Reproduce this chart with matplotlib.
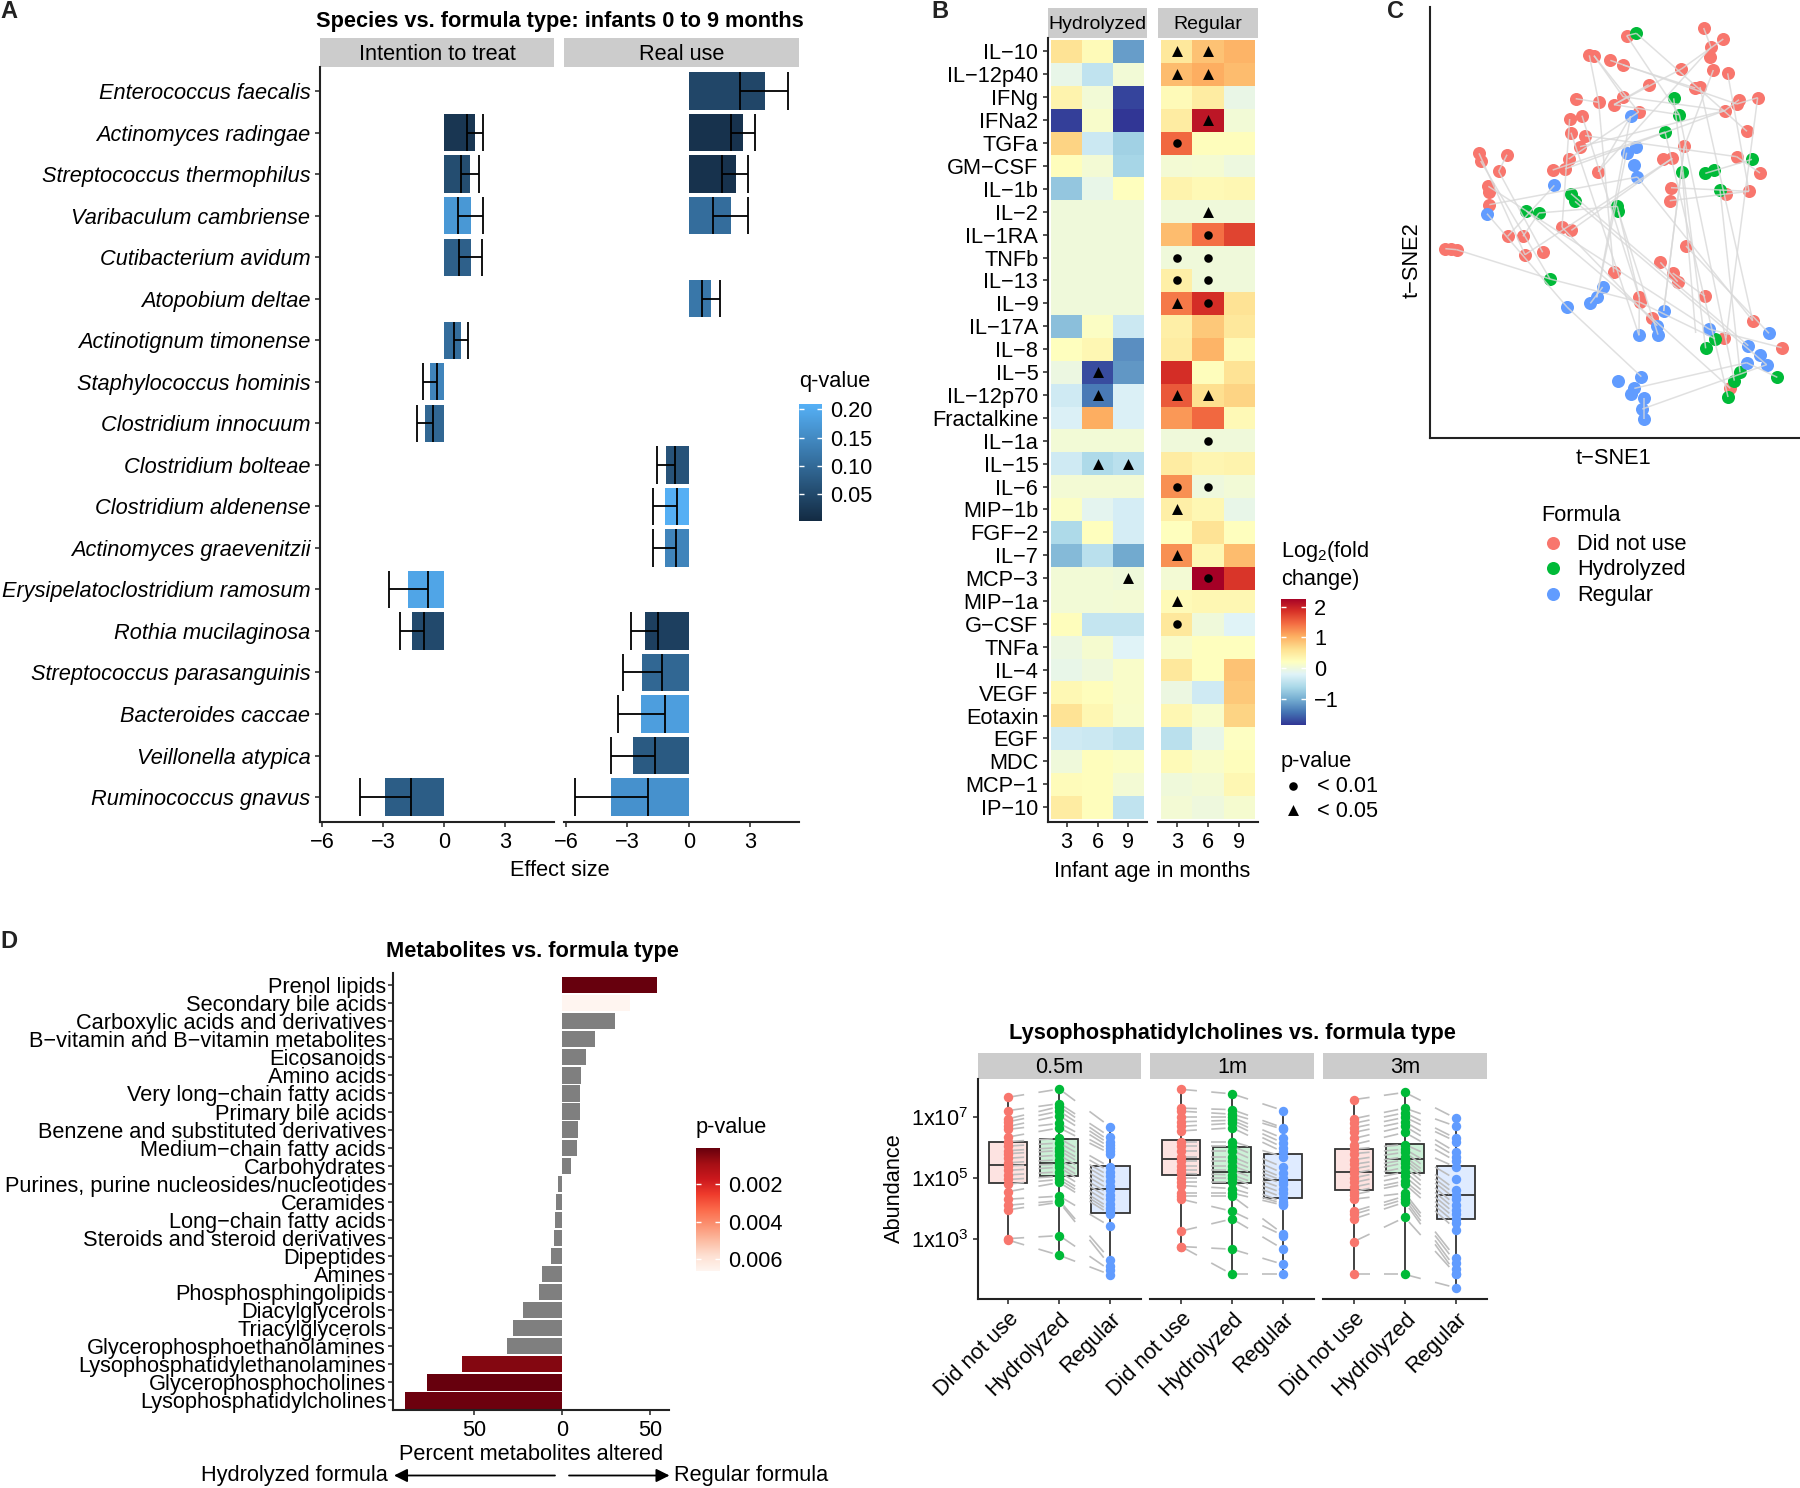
import numpy as np
import matplotlib
matplotlib.use('Agg')
import matplotlib.pyplot as plt
from matplotlib.colors import LinearSegmentedColormap, Normalize
from matplotlib.collections import LineCollection

plt.rcParams['font.family'] = ['Liberation Sans', 'DejaVu Sans']
plt.rcParams['mathtext.fontset'] = 'custom'
plt.rcParams['mathtext.rm'] = 'Liberation Sans'
plt.rcParams['mathtext.default'] = 'rm'
plt.rcParams['axes.unicode_minus'] = True

W, H = 1800, 1488
FS = 15.7
AXC = '#222222'

# panel A: species effect sizes
species = ['Enterococcus faecalis', 'Actinomyces radingae', 'Streptococcus thermophilus',
           'Varibaculum cambriense', 'Cutibacterium avidum', 'Atopobium deltae',
           'Actinotignum timonense', 'Staphylococcus hominis', 'Clostridium innocuum',
           'Clostridium bolteae', 'Clostridium aldenense', 'Actinomyces graevenitzii',
           'Erysipelatoclostridium ramosum', 'Rothia mucilaginosa', 'Streptococcus parasanguinis',
           'Bacteroides caccae', 'Veillonella atypica', 'Ruminococcus gnavus']
itt_rows = [1, 2, 3, 4, 6, 7, 8, 12, 13, 17]
itt_effect = [1.52, 1.26, 1.29, 1.32, 0.81, -0.70, -0.96, -1.77, -1.57, -2.92]
itt_low = [1.10, 0.81, 0.65, 0.73, 0.45, -0.34, -0.56, -0.81, -0.98, -1.66]
itt_high = [1.91, 1.71, 1.91, 1.85, 1.18, -1.04, -1.35, -2.72, -2.16, -4.16]
itt_q = [0.02, 0.055, 0.17, 0.085, 0.105, 0.14, 0.095, 0.19, 0.05, 0.08]
real_rows = [0, 1, 2, 3, 5, 9, 10, 11, 13, 14, 15, 16, 17]
real_effect = [3.71, 2.64, 2.28, 2.08, 1.07, -1.12, -1.15, -1.18, -2.16, -2.28, -2.33, -2.72, -3.79]
real_low = [2.50, 2.05, 1.63, 1.18, 0.62, -0.67, -0.56, -0.65, -1.49, -1.32, -1.18, -1.66, -1.99]
real_high = [4.86, 3.23, 2.87, 2.89, 1.52, -1.57, -1.77, -1.77, -2.84, -3.20, -3.48, -3.79, -5.56]
real_q = [0.045, 0.015, 0.015, 0.105, 0.12, 0.065, 0.205, 0.14, 0.035, 0.095, 0.18, 0.075, 0.16]

# panel B: cytokine log2 fold change, columns are 3, 6, 9 months
cytokines = ['IL−10', 'IL−12p40', 'IFNg', 'IFNa2', 'TGFa', 'GM−CSF', 'IL−1b', 'IL−2', 'IL−1RA',
             'TNFb', 'IL−13', 'IL−9', 'IL−17A', 'IL−8', 'IL−5', 'IL−12p70', 'Fractalkine', 'IL−1a',
             'IL−15', 'IL−6', 'MIP−1b', 'FGF−2', 'IL−7', 'MCP−3', 'MIP−1a', 'G−CSF', 'TNFa', 'IL−4',
             'VEGF', 'Eotaxin', 'EGF', 'MDC', 'MCP−1', 'IP−10']
ages = ['3', '6', '9']
hydrolyzed_fc = [[.55, .25, -1.15], [-.1, -.45, .02], [.35, .03, -1.75], [-1.78, .1, -1.86],
                 [.7, -.38, -.7], [.22, .05, -.65], [-.8, -.1, .2], [0, 0, 0], [0, 0, 0], [0, 0, 0],
                 [0, 0, 0], [0, 0, 0], [-.85, .15, -.38], [.2, .3, -1.25], [-.05, -1.7, -1.2],
                 [-.35, -1.4, -.25], [-.25, 1.0, -.25], [.02, .02, .02], [-.35, -.6, -.5],
                 [.05, .05, .05], [.15, -.15, -.3], [-.6, .2, -.3], [-.9, -.5, -1.05], [.03, .03, 0],
                 [.03, .02, .04], [.22, -.42, -.42], [-.05, .08, -.22], [-.1, -.02, .12],
                 [.28, .22, .12], [.55, .3, .1], [-.35, -.38, -.45], [0, .22, .15], [.23, .22, .05],
                 [.45, .22, -.45]]
regular_fc = [[.5, .85, .95], [.9, 1.0, .9], [.25, .45, -.08], [.45, 2.05, .03], [1.45, .22, .22],
              [.05, .06, -.03], [.35, .27, .3], [0, 0, 0], [.9, 1.4, 1.7], [0, 0, 0], [.4, 0, 0],
              [1.35, 1.85, .55], [.4, .8, .5], [.45, .95, .25], [1.85, .22, .55], [1.55, .6, .7],
              [1.15, 1.45, .27], [0, 0, 0], [.45, .32, .35], [1.2, -.02, .03], [.4, .3, -.1],
              [.2, .55, .2], [1.2, .3, .9], [.05, 2.25, 1.8], [.25, .3, .3], [.5, -.01, -.22],
              [.1, .2, .2], [.5, .2, .85], [-.05, -.35, .8], [.3, .1, .7], [-.5, -.1, .17],
              [.25, .13, .22], [0, .05, .3], [.04, -.02, .07]]
# significance marks as (cytokine row, age column)
hydrolyzed_p05 = [(14, 1), (15, 1), (18, 1), (18, 2), (23, 2)]
hydrolyzed_p01 = []
regular_p05 = [(0, 0), (0, 1), (1, 0), (1, 1), (3, 1), (7, 1), (11, 0), (15, 0), (15, 1), (20, 0),
               (22, 0), (24, 0)]
regular_p01 = [(4, 0), (8, 1), (9, 0), (9, 1), (10, 0), (10, 1), (11, 1), (17, 1), (19, 0), (19, 1),
               (23, 1), (25, 0)]

# panel C: t-SNE points
red_x = [680, 911, 970, 933, 931, 568, 582, 631, 669, 844, 940, 983, 746, 886, 900, 527, 596, 668, 642,
         1017, 1010, 1073, 974, 716, 546, 509, 1041, 513, 555, 540, 853, 237, 242, 321, 506, 458, 495,
         595, 790, 817, 1010, 1080, 296, 265, 267, 268, 813, 1047, 978, 809, 486, 514, 323, 369, 375,
         428, 136, 153, 170, 858, 781, 641, 818, 833, 915, 718, 720, 756, 1058, 973, 1145, 991]
red_y = [108, 85, 118, 143, 172, 167, 168, 182, 196, 208, 211, 221, 255, 265, 262, 297, 308, 291, 315,
         300, 313, 294, 333, 337, 348, 358, 395, 399, 408, 441, 440, 461, 484, 465, 478, 511, 508,
         516, 479, 476, 471, 520, 515, 560, 578, 615, 564, 575, 582, 603, 683, 692, 710, 710, 765,
         758, 747, 748, 750, 739, 788, 818, 820, 846, 890, 893, 908, 955, 963, 1016, 1044, 1166]
green_x = [709, 821, 838, 795, 846, 916, 942, 1056, 960, 513, 525, 652, 654, 379, 417, 450, 945, 917,
           1020, 1003, 984, 1132]
green_y = [101, 296, 345, 397, 516, 521, 510, 479, 570, 582, 605, 620, 633, 634, 640, 838, 1017, 1046,
           1118, 1143, 1192, 1133]
blue_x = [692, 709, 680, 701, 712, 463, 261, 608, 590, 571, 501, 791, 772, 717, 774, 927, 1107, 1045,
          1080, 1040, 1100, 724, 655, 703, 692, 732, 727, 732]
blue_y = [350, 441, 459, 495, 532, 557, 642, 862, 893, 911, 922, 934, 978, 1007, 1005, 988, 1001, 1038,
          1066, 1089, 1095, 1131, 1144, 1166, 1182, 1195, 1228, 1257]
# lines joining samples of one infant: x1, y1, x2, y2
tsne_links = [(680, 108, 709, 101), (709, 101, 1041, 395), (680, 108, 838, 345), (911, 85, 933, 143),
              (933, 143, 595, 516), (970, 118, 844, 208), (844, 208, 642, 315), (568, 167, 596, 308),
              (582, 168, 669, 291), (582, 168, 716, 337), (631, 182, 1010, 313), (669, 196, 886, 265),
              (746, 255, 642, 315), (940, 211, 853, 440), (853, 440, 791, 934), (983, 221, 1047, 575),
              (900, 262, 1058, 963), (527, 297, 596, 308), (596, 308, 641, 818), (668, 291, 974, 333),
              (642, 315, 838, 345), (1073, 294, 1010, 313), (1073, 294, 978, 1016), (974, 333, 540, 441),
              (1017, 300, 974, 333), (716, 337, 506, 478), (692, 350, 595, 516), (692, 350, 590, 893),
              (546, 348, 718, 893), (509, 358, 486, 683), (513, 399, 717, 1007), (555, 408, 1010, 471),
              (237, 461, 375, 765), (242, 484, 450, 838), (321, 465, 296, 515), (296, 515, 428, 758),
              (458, 511, 795, 397), (495, 508, 974, 333), (265, 560, 927, 988), (268, 615, 712, 532),
              (261, 642, 501, 922), (463, 557, 323, 710), (513, 582, 1045, 1038), (525, 605, 1100, 1095),
              (652, 620, 718, 893), (654, 633, 774, 1005), (379, 634, 756, 955), (417, 640, 652, 620),
              (486, 683, 772, 978), (514, 692, 817, 476), (369, 710, 417, 640), (375, 765, 817, 476),
              (136, 747, 170, 750), (170, 750, 450, 838), (450, 838, 720, 908), (501, 922, 724, 1131),
              (608, 862, 571, 911), (590, 893, 680, 459), (781, 788, 833, 846), (818, 820, 915, 890),
              (858, 739, 1107, 1001), (720, 908, 945, 1017), (756, 955, 991, 1166), (712, 532, 1058, 963),
              (838, 345, 1003, 1143), (821, 296, 917, 1046), (795, 397, 984, 1192), (846, 516, 887, 1000),
              (813, 564, 1047, 575), (809, 603, 1047, 575), (1056, 479, 916, 521), (1010, 471, 1080, 520),
              (960, 570, 1020, 1118), (703, 1166, 1040, 1089), (727, 1228, 1100, 1095), (732, 1195, 732, 1257),
              (1040, 1089, 1132, 1133), (927, 988, 1145, 1044), (718, 893, 717, 1007), (791, 934, 853, 440)]

# panel D: metabolites
metabolites = ['Prenol lipids', 'Secondary bile acids', 'Carboxylic acids and derivatives',
               'B−vitamin and B−vitamin metabolites', 'Eicosanoids', 'Amino acids',
               'Very long−chain fatty acids', 'Primary bile acids', 'Benzene and substituted derivatives',
               'Medium−chain fatty acids', 'Carbohydrates', 'Purines, purine nucleosides/nucleotides',
               'Ceramides', 'Long−chain fatty acids', 'Steroids and steroid derivatives', 'Dipeptides',
               'Amines', 'Phosphosphingolipids', 'Diacylglycerols', 'Triacylglycerols',
               'Glycerophosphoethanolamines', 'Lysophosphatidylethanolamines', 'Glycerophosphocholines',
               'Lysophosphatidylcholines']
percent_altered = [53.9, 38.3, 30.1, 18.3, 13.4, 10.7, 10, 10, 9.1, 8.5, 4.9, -2.7, -3.7, -4, -4.9, -6.4,
                   -11.6, -13.4, -22.2, -28.3, -31.3, -57.2, -76.7, -89.5]
metabolite_p = [.0001, .0066, None, None, None, None, None, None, None, None, None, None, None, None,
                None, None, None, None, None, None, None, .0005, .0001, .0002]

# panel E: log10 abundance, one row per infant, columns did not use, hydrolyzed, regular
formula_types = ['Did not use', 'Hydrolyzed', 'Regular']
facets = ['0.5m', '1m', '3m']
dnu_05 = [7.66, 7.22, 6.95, 6.85, 6.7, 6.6, 6.35, 6.2, 6.05, 5.9, 5.8, 5.65, 5.5, 5.4, 5.25, 5.1, 4.95, 4.8, 4.55, 4.3, 4.1, 3.95, 3.0, 2.95]
hyd_05 = [7.93, 7.45, 7.35, 7.2, 7.05, 6.8, 6.65, 6.3, 6.15, 6.0, 5.9, 5.75, 5.6, 5.45, 5.35, 5.2, 5.05, 4.95, 4.85, 4.4, 4.25, 4.2, 3.1, 2.45]
reg_05 = [6.68, 6.35, 6.2, 6.1, 6.0, 5.9, 5.8, 5.35, 5.2, 5.05, 4.9, 4.75, 4.6, 4.45, 4.3, 4.15, 4.0, 3.9, 3.8, 3.4, 2.3, 2.1, 1.95, 1.81]
dnu_1 = [7.92, 7.3, 7.2, 7.0, 6.85, 6.7, 6.55, 6.2, 6.05, 5.9, 5.7, 5.55, 5.4, 5.25, 5.15, 5.0, 4.85, 4.75, 4.5, 4.4, 4.3, 3.25, 2.74, 2.74]
hyd_1 = [7.77, 7.25, 7.1, 7.0, 6.9, 6.8, 6.65, 6.2, 6.05, 5.9, 5.7, 5.55, 5.4, 5.25, 5.1, 5.0, 4.85, 4.65, 4.5, 4.4, 3.9, 3.65, 2.65, 1.82]
reg_1 = [7.22, 6.65, 6.6, 6.3, 6.15, 6.0, 5.85, 5.7, 5.35, 5.15, 5.0, 4.9, 4.8, 4.65, 4.5, 4.35, 4.2, 4.15, 4.1, 3.15, 3.1, 2.65, 2.15, 1.82]
dnu_3 = [7.58, 6.95, 6.8, 6.65, 6.5, 6.3, 6.1, 5.95, 5.8, 5.6, 5.45, 5.3, 5.15, 5.0, 4.85, 4.7, 4.55, 4.45, 4.3, 3.9, 3.8, 3.65, 2.9, 1.82]
hyd_3 = [7.82, 7.3, 7.15, 7.0, 6.85, 6.7, 6.5, 6.1, 5.95, 5.85, 5.7, 5.6, 5.5, 5.35, 5.2, 5.05, 4.9, 4.8, 4.5, 4.4, 4.3, 4.2, 3.7, 1.82]
reg_3 = [6.96, 6.7, 6.3, 6.2, 5.85, 5.7, 5.55, 5.35, 4.95, 4.6, 4.45, 4.3, 4.1, 3.95, 3.8, 3.65, 3.5, 3.3, 2.35, 2.2, 2.0, 1.85, 1.82, 1.38]
abundance = [[dnu_05, hyd_05, reg_05], [dnu_1, hyd_1, reg_1], [dnu_3, hyd_3, reg_3]]
# box stats: whisker low, q1, median, q3, whisker high
box_stats = [[[2.98, 4.84, 5.42, 6.18, 7.66], [2.45, 5.05, 5.48, 6.29, 7.93], [1.81, 3.85, 4.62, 5.38, 6.68]],
             [[2.74, 5.10, 5.64, 6.26, 7.92], [1.82, 4.84, 5.19, 6.03, 7.77], [1.82, 4.33, 4.93, 5.80, 7.22]],
             [[1.82, 4.60, 5.20, 5.94, 7.58], [1.82, 5.16, 5.64, 6.11, 7.82], [1.38, 3.63, 4.44, 5.38, 6.96]]]

RED, GREEN, BLUE = '#F8766D', '#00BA38', '#619CFF'
formula_colors = [RED, GREEN, BLUE]

fig = plt.figure(figsize=(W / 100, H / 100), dpi=100, facecolor='white')


def px_axes(x0, y0, x1, y1):
    return fig.add_axes([x0 / W, 1 - y1 / H, (x1 - x0) / W, (y1 - y0) / H])


def px_text(x, y, s, **kw):
    kw.setdefault('fontsize', FS)
    kw.setdefault('va', 'center')
    return fig.text(x / W, 1 - y / H, s, **kw)


def strip(x0, y0, x1, y1, label, size=FS):
    ax = px_axes(x0, y0, x1, y1)
    ax.set_facecolor('#cccccc')
    ax.set_xticks([])
    ax.set_yticks([])
    for s in ax.spines.values():
        s.set_visible(False)
    ax.text(0.5, 0.44, label, transform=ax.transAxes, ha='center', va='center', fontsize=size)


def style_axes(ax, left=True, pad=3.5):
    ax.spines['top'].set_visible(False)
    ax.spines['right'].set_visible(False)
    ax.spines['left'].set_visible(left)
    ax.spines['left'].set_linewidth(1.5)
    ax.spines['bottom'].set_linewidth(1.5)
    ax.spines['left'].set_color(AXC)
    ax.spines['bottom'].set_color(AXC)
    ax.tick_params(length=3.5, width=1.1, color=AXC, labelsize=FS, pad=pad)
    ax.patch.set_alpha(0)


def colorbar(x0, y0, x1, y1, cmap, norm, ticks, labels, flip=False):
    cax = px_axes(x0, y0, x1, y1)
    grad = np.linspace(norm.vmin, norm.vmax, 256)[:, None]
    cax.imshow(grad, cmap=cmap, norm=norm, origin='lower', aspect='auto',
               extent=[0, 1, norm.vmin, norm.vmax])
    cax.set_xticks([])
    cax.yaxis.tick_right()
    cax.set_yticks(ticks)
    cax.set_yticklabels(labels, fontsize=FS)
    cax.tick_params(length=0, pad=6)
    cax.hlines(ticks, 0, 0.2, color='white', lw=1)
    cax.hlines(ticks, 0.8, 1, color='white', lw=1)
    if flip:
        cax.invert_yaxis()
    for s in cax.spines.values():
        s.set_visible(False)
    return cax


# --- panel A ---
q_cmap = LinearSegmentedColormap.from_list('q', ['#132B43', '#56B1F7'])
q_norm = Normalize(0.003, 0.209)
px_text(0, 11, 'A', fontsize=17, fontweight='bold', color='#222222')
px_text(560, 21, 'Species vs. formula type: infants 0 to 9 months', fontweight='bold', ha='center')
strip(320, 38, 554, 67, 'Intention to treat')
strip(564, 38, 799, 67, 'Real use')
panel_a = [(320, 554, itt_rows, itt_effect, itt_low, itt_high, itt_q),
           (564, 799, real_rows, real_effect, real_low, real_high, real_q)]
for k, (x0, x1, rows, eff, lo, hi, q) in enumerate(panel_a):
    ax = px_axes(x0, 67, x1, 822)
    ax.barh(rows, eff, height=0.9, color=q_cmap(q_norm(np.array(q))))
    ax.hlines(rows, lo, hi, color='black', lw=1.3)
    ax.vlines(lo, np.array(rows) - 0.45, np.array(rows) + 0.45, color='black', lw=1.3)
    ax.vlines(hi, np.array(rows) - 0.45, np.array(rows) + 0.45, color='black', lw=1.3)
    ax.set_xlim(-6.1, 5.38)
    ax.set_ylim(17.6, -0.58)
    style_axes(ax, left=(k == 0))
    ax.set_xticks([-6, -3, 0, 3])
    ax.set_xticklabels(['−6', '−3', '0', '3'])
    if k == 0:
        ax.set_yticks(range(len(species)))
        ax.set_yticklabels(species, style='italic')
    else:
        ax.set_yticks([])
px_text(560, 871, 'Effect size', ha='center')
px_text(799, 382, 'q-value')
colorbar(799, 404, 822, 521, q_cmap, q_norm, [.05, .10, .15, .20], ['0.05', '0.10', '0.15', '0.20'])

# --- panel B ---
fc_norm = Normalize(-1.86, 2.25)
fc_cmap = plt.get_cmap('RdYlBu_r')
px_text(931, 11, 'B', fontsize=17, fontweight='bold', color='#222222')
strip(1048, 8, 1147, 38, 'Hydrolyzed', size=14)
strip(1158, 8, 1258, 38, 'Regular', size=14)
panel_b = [(1048, 1147, hydrolyzed_fc, hydrolyzed_p05, hydrolyzed_p01),
           (1158, 1258, regular_fc, regular_p05, regular_p01)]
for k, (x0, x1, fc, p05, p01) in enumerate(panel_b):
    ax = px_axes(x0, 38, x1, 822)
    arr = np.array(fc)
    ax.imshow(arr, cmap=fc_cmap, norm=fc_norm, aspect='auto', interpolation='nearest')
    for marks, shape, size in [(p05, '^', 62), (p01, 'o', 38)]:
        if marks:
            mr, mc = zip(*marks)
            ax.scatter(mc, mr, marker=shape, s=size, color='black', linewidths=0, zorder=3)
    pad = 3.3 / 31
    ax.set_xlim(-0.5 - pad, 2.5 + pad)
    ax.set_ylim(33.65, -0.588)
    style_axes(ax, left=(k == 0))
    ax.set_xticks(range(3))
    ax.set_xticklabels(ages)
    if k == 0:
        ax.set_yticks(range(len(cytokines)))
        ax.set_yticklabels(cytokines)
    else:
        ax.set_yticks([])
px_text(1152, 871, 'Infant age in months', ha='center')
px_text(1281, 552, 'Log$_2$(fold')
px_text(1281, 579, 'change)')
colorbar(1281, 599, 1306, 725, fc_cmap, fc_norm, [-1, 0, 1, 2], ['−1', '0', '1', '2'])
px_text(1281, 761, 'p-value')
key = px_axes(1281, 775, 1400, 822)
key.set_xlim(1281, 1400)
key.set_ylim(822, 775)
key.axis('off')
key.scatter([1293], [786], marker='o', s=38, color='black', linewidths=0)
key.scatter([1293], [810], marker='^', s=62, color='black', linewidths=0)
px_text(1317, 787, '< 0.01')
px_text(1317, 812, '< 0.05')

# --- panel C ---
px_text(1387, 11, 'C', fontsize=17, fontweight='bold', color='#222222')
ax = px_axes(1430, 7, 1800, 438)
ax.scatter(red_x, red_y, s=88, color=RED, linewidths=0, zorder=2)
ax.scatter(green_x, green_y, s=88, color=GREEN, linewidths=0, zorder=2)
ax.scatter(blue_x, blue_y, s=88, color=BLUE, linewidths=0, zorder=2)
ax.add_collection(LineCollection([[(a, b), (c, d)] for a, b, c, d in tsne_links],
                                 colors='#d9d9d9', linewidths=1.1, alpha=0.8, zorder=3))
ax.set_xlim(90, 1200)
ax.set_ylim(1315, 22)
style_axes(ax)
ax.set_xticks([])
ax.set_yticks([])
px_text(1613, 458, 't−SNE1', ha='center')
px_text(1412, 260, 't−SNE2', ha='center', rotation=90)
px_text(1541, 515, 'Formula')
key = px_axes(1541, 530, 1700, 606)
key.set_xlim(1541, 1700)
key.set_ylim(606, 530)
key.axis('off')
for yy, name, col in zip([543, 568, 593.5], formula_types, formula_colors):
    key.scatter([1553], [yy], s=88, color=col, linewidths=0)
    px_text(1577, yy + 1.5, name)

# --- panel D ---
px_text(0, 941, 'D', fontsize=17, fontweight='bold', color='#222222')
px_text(532, 951, 'Metabolites vs. formula type', fontweight='bold', ha='center')
p_cmap = plt.get_cmap('Reds_r')
p_norm = Normalize(0.0001, 0.0066)
ax = px_axes(392.6, 973.4, 669.5, 1410.4)
bar_colors = ['#7f7f7f' if p is None else p_cmap(p_norm(p)) for p in metabolite_p]
ax.barh(range(len(metabolites)), percent_altered, height=0.9, color=bar_colors)
ax.set_xlim(-96.5, 60.9)
ax.set_ylim(23.55, -0.65)
style_axes(ax)
ax.tick_params(axis='y', pad=1.2)
ax.set_xticks([-50, 0, 50])
ax.set_xticklabels(['50', '0', '50'])
ax.set_yticks(range(len(metabolites)))
ax.set_yticklabels(metabolites)
px_text(531, 1454, 'Percent metabolites altered', ha='center')
px_text(388, 1476, 'Hydrolyzed formula', ha='right')
px_text(674, 1476, 'Regular formula', ha='left')
for x_from, x_to in [(555, 394), (569, 669.5)]:
    fig.add_artist(matplotlib.patches.FancyArrowPatch(
        (x_from / W, 1 - 1475.5 / H), (x_to / W, 1 - 1475.5 / H), transform=fig.transFigure,
        arrowstyle='-|>', mutation_scale=20, color='black', lw=1.3, shrinkA=0, shrinkB=0))
px_text(696, 1128, 'p-value')
colorbar(696, 1148, 720, 1270.6, p_cmap, p_norm, [.002, .004, .006], ['0.002', '0.004', '0.006'], flip=True)

# --- panel E ---
px_text(1232, 1034, 'Lysophosphatidylcholines vs. formula type', fontweight='bold', ha='center')
facet_px = [(977.7, 1141), (1150.4, 1314), (1323, 1486.7)]
for k, (x0, x1) in enumerate(facet_px):
    strip(x0, 1053, x1, 1079, facets[k])
    ax = px_axes(x0, 1079, x1, 1299)
    ax.set_yscale('log')
    stats = []
    for j in range(3):
        lo, q1, med, q3, hi = 10.0 ** np.array(box_stats[k][j])
        stats.append(dict(whislo=lo, q1=q1, med=med, q3=q3, whishi=hi, fliers=[]))
    parts = ax.bxp(stats, positions=[1, 2, 3], widths=0.75, patch_artist=True, showcaps=False,
                   showfliers=False, manage_ticks=False, zorder=1,
                   medianprops=dict(color='#333333', lw=1.3),
                   whiskerprops=dict(color='#333333', lw=1.3),
                   boxprops=dict(edgecolor='#333333', lw=1.3))
    for box, col in zip(parts['boxes'], formula_colors):
        box.set_facecolor(matplotlib.colors.to_rgba(col, 0.2))
    # paired lines, broken in the middle of each span
    segs = []
    rows = np.array(abundance[k]).T
    for row in rows:
        for j in range(2):
            a, b = row[j], row[j + 1]
            for f0, f1 in [(0.08, 0.31), (0.59, 0.87)]:
                segs.append([(1 + j + f0, 10 ** (a + (b - a) * f0)), (1 + j + f1, 10 ** (a + (b - a) * f1))])
    ax.add_collection(LineCollection(segs, colors='#bdbdbd', linewidths=1.2, zorder=2))
    for j in range(3):
        ax.scatter([j + 1] * len(abundance[k][j]), 10.0 ** np.array(abundance[k][j]), s=46,
                   color=formula_colors[j], linewidths=0, zorder=3)
    ax.set_xlim(0.4, 3.6)
    ax.set_ylim(10 ** 1.01, 10 ** 8.26)
    style_axes(ax, left=(k == 0))
    ax.minorticks_off()
    ax.set_xticks([1, 2, 3])
    ax.set_xticklabels(formula_types, rotation=45, ha='right', rotation_mode='anchor')
    if k == 0:
        ax.set_yticks([1e3, 1e5, 1e7])
        ax.set_yticklabels(['1x10$^{3}$', '1x10$^{5}$', '1x10$^{7}$'])
    else:
        ax.set_yticks([])
px_text(894, 1188, 'Abundance', ha='center', rotation=90)

fig.savefig('out.png', dpi=100)
